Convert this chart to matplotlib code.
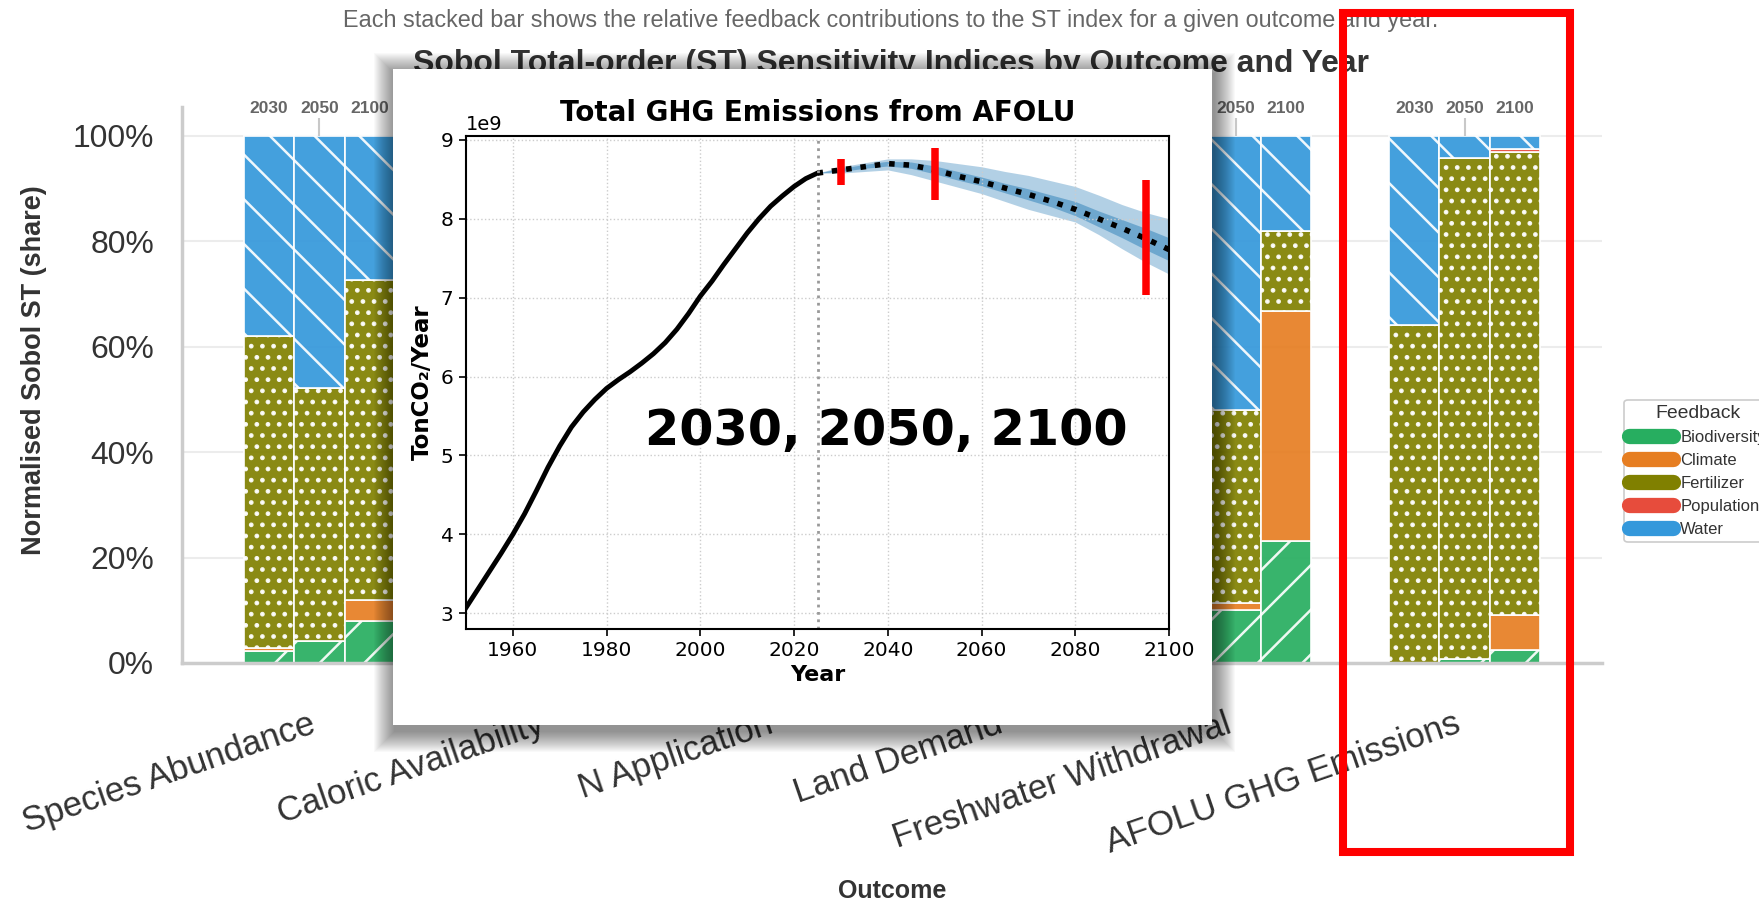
import matplotlib
matplotlib.use('Agg')
import matplotlib.pyplot as plt
import numpy as np
from matplotlib.patches import Rectangle
from matplotlib.lines import Line2D
from matplotlib.ticker import PercentFormatter

W, H = 1759, 903   # output size in pixels
DPI = 134          # hatch spacing follows the dpi, so render at a higher one
P = 100 / DPI      # sizes below are written as "points at 100 dpi"

plt.rcParams['font.family'] = ['Liberation Sans', 'DejaVu Sans']
plt.rcParams['hatch.linewidth'] = 1.8 * P

# ---- Sobol ST shares, one row per outcome, columns = 2030 / 2050 / 2100 ----
outcomes = ['Species Abundance', 'Caloric Availability', 'N Application',
            'Land Demand', 'Freshwater Withdrawal', 'AFOLU GHG Emissions']
years = ['2030', '2050', '2100']
feedbacks = ['Biodiversity', 'Climate', 'Fertilizer', 'Population', 'Water']

biodiversity = [[0.022, 0.041, 0.080], [0.05, 0.06, 0.10], [0.01, 0.02, 0.03],
                [0.15, 0.18, 0.20], [0.080, 0.100, 0.232], [0.000, 0.007, 0.024]]
climate = [[0.006, 0.000, 0.040], [0.02, 0.05, 0.20], [0.00, 0.01, 0.05],
           [0.02, 0.05, 0.25], [0.010, 0.013, 0.436], [0.000, 0.000, 0.068]]
fertilizer = [[0.592, 0.480, 0.606], [0.55, 0.50, 0.40], [0.90, 0.88, 0.80],
              [0.45, 0.40, 0.30], [0.400, 0.368, 0.151], [0.642, 0.951, 0.877]]
population = [[0.000, 0.000, 0.000], [0.00, 0.00, 0.00], [0.00, 0.00, 0.00],
              [0.01, 0.01, 0.02], [0.000, 0.000, 0.000], [0.000, 0.000, 0.006]]
water = [[0.380, 0.479, 0.274], [0.38, 0.39, 0.30], [0.09, 0.09, 0.12],
         [0.37, 0.36, 0.23], [0.510, 0.519, 0.181], [0.358, 0.042, 0.025]]

colors = {'Biodiversity': '#27ae60', 'Climate': '#e67e22', 'Fertilizer': '#808000',
          'Population': '#e74c3c', 'Water': '#3498db'}
hatches = {'Biodiversity': '/', 'Climate': '', 'Fertilizer': '..',
           'Population': '', 'Water': '\\'}

# ---- AFOLU GHG emissions (TonCO2/Year) ----
hist_years = [1950, 1952.5, 1955, 1957.5, 1960, 1962.5, 1965, 1967.5, 1970, 1972.5,
              1975, 1977.5, 1980, 1982.5, 1985, 1987.5, 1990, 1992.5, 1995, 1997.5,
              2000, 2002.5, 2005, 2007.5, 2010, 2012.5, 2015, 2017.5, 2020, 2022.5, 2025]
hist_emis = [3.07e9, 3.30e9, 3.53e9, 3.76e9, 4.00e9, 4.26e9, 4.55e9, 4.85e9, 5.12e9, 5.36e9,
             5.55e9, 5.71e9, 5.85e9, 5.96e9, 6.06e9, 6.17e9, 6.29e9, 6.43e9, 6.60e9, 6.80e9,
             7.02e9, 7.21e9, 7.42e9, 7.62e9, 7.82e9, 8.00e9, 8.16e9, 8.29e9, 8.41e9, 8.51e9,
             8.58e9]
proj_years = [2025, 2030, 2035, 2040, 2045, 2050, 2055, 2060, 2065, 2070,
              2075, 2080, 2085, 2090, 2095, 2100]
proj_median = [8.58e9, 8.62e9, 8.66e9, 8.70e9, 8.68e9, 8.62e9, 8.54e9, 8.47e9,
               8.39e9, 8.31e9, 8.22e9, 8.12e9, 8.00e9, 7.88e9, 7.75e9, 7.61e9]
proj_q05 = [8.58e9, 8.58e9, 8.60e9, 8.62e9, 8.56e9, 8.48e9, 8.40e9, 8.32e9,
            8.22e9, 8.12e9, 8.04e9, 7.96e9, 7.80e9, 7.62e9, 7.45e9, 7.30e9]
proj_q95 = [8.58e9, 8.66e9, 8.71e9, 8.76e9, 8.76e9, 8.74e9, 8.70e9, 8.66e9,
            8.60e9, 8.55e9, 8.48e9, 8.41e9, 8.30e9, 8.18e9, 8.08e9, 8.00e9]
proj_q25 = [8.58e9, 8.60e9, 8.64e9, 8.67e9, 8.64e9, 8.57e9, 8.49e9, 8.42e9,
            8.33e9, 8.24e9, 8.15e9, 8.04e9, 7.90e9, 7.76e9, 7.61e9, 7.47e9]
proj_q75 = [8.58e9, 8.64e9, 8.69e9, 8.73e9, 8.72e9, 8.67e9, 8.60e9, 8.53e9,
            8.45e9, 8.38e9, 8.30e9, 8.22e9, 8.10e9, 7.99e9, 7.88e9, 7.76e9]
mark_years = [2030, 2050, 2095]
mark_lo = [8.43e9, 8.24e9, 7.03e9]
mark_hi = [8.76e9, 8.90e9, 8.49e9]


def px_rect(x0, top, x1, bottom, **kw):
    # rectangle given in output pixels (origin top-left)
    return Rectangle((x0 / W, 1 - bottom / H), (x1 - x0) / W, (bottom - top) / H,
                     transform=fig.transFigure, **kw)


fig = plt.figure(figsize=(W / DPI, H / DPI), dpi=DPI)
fig.patch.set_facecolor('white')

# ================= background: stacked bars =================
ax = fig.add_axes([182 / W, 1 - 663 / H, (1602 - 182) / W, (663 - 107) / H])
ax.set_zorder(0)
x = np.arange(len(outcomes))
bar_w = 0.22
shares = [biodiversity, climate, fertilizer, population, water]
for j, yr in enumerate(years):
    xpos = x + (j - 1) * bar_w
    bottom = np.zeros(len(outcomes))
    for name, vals in zip(feedbacks, shares):
        v = np.array([row[j] for row in vals])
        ax.bar(xpos, v, bar_w, bottom=bottom, color=colors[name], alpha=0.92,
               hatch=hatches[name], edgecolor='white', linewidth=1.3 * P)
        bottom += v
    for xp in xpos:
        ax.text(xp, 1.052, yr, ha='center', va='center', fontsize=12.5 * P,
                fontweight='bold', color='#666666')
ax.vlines(x, 1.0, 1.035, color='#c8c8c8', lw=1.5 * P)

ax.set_xlim(-0.6, 5.6)
ax.set_ylim(0, 1.055)
ax.set_yticks(np.arange(0, 1.01, 0.2))
ax.yaxis.set_major_formatter(PercentFormatter(1.0, decimals=0))
ax.set_xticks(x)
ax.set_xticklabels(outcomes, rotation=19, ha='right')
ax.tick_params(axis='x', length=0, pad=32 * P, labelsize=25 * P, labelcolor='#333333')
ax.tick_params(axis='y', length=0, pad=20 * P, labelsize=23 * P, labelcolor='#333333')
ax.yaxis.grid(True, color='#ececec', lw=1.5 * P)
ax.set_axisbelow(True)
for s in ['top', 'right']:
    ax.spines[s].set_visible(False)
for s in ['left', 'bottom']:
    ax.spines[s].set_color('#cccccc')
    ax.spines[s].set_linewidth(2.5 * P)

ax.set_ylabel('Normalised Sobol ST (share)', fontsize=19.5 * P, fontweight='bold', color='#333333')
ax.yaxis.set_label_coords(-0.095, 0.527)
ax.set_xlabel('Outcome', fontsize=18 * P, fontweight='bold', color='#333333')
ax.xaxis.set_label_coords(0.5, -0.388)

handles = [Line2D([0], [0], color=colors[f], lw=11 * P, solid_capstyle='round') for f in feedbacks]
leg = ax.legend(handles, feedbacks, title='Feedback', loc='center left',
                bbox_to_anchor=(1616 / W, 1 - 471 / H), bbox_transform=fig.transFigure,
                fontsize=12 * P, title_fontsize=14 * P, edgecolor='#cccccc', framealpha=1,
                handlelength=2.6, labelspacing=0.48, borderpad=0.3, handletextpad=0.45)
leg.get_frame().set_linewidth(1.2 * P)
for t in leg.get_texts():
    t.set_color('#333333')
leg.get_title().set_color('#333333')

fig.text(891 / W, 1 - 20 / H,
         'Each stacked bar shows the relative feedback contributions to the ST index '
         'for a given outcome and year.',
         ha='center', va='center', fontsize=16.8 * P, color='#666666', zorder=0.5)
fig.text(891 / W, 1 - 64 / H,
         'Sobol Total-order (ST) Sensitivity Indices by Outcome and Year',
         ha='center', va='center', fontsize=23 * P, fontweight='bold', color='#333333', zorder=0.5)

# ================= pasted inset with drop shadow =================
for k in range(1, 22):
    fig.patches.append(px_rect(393 - k + 2, 69 - k + 5, 1212 + k + 2, 725 + k + 6,
                               facecolor='black', alpha=0.025, lw=0, zorder=1))
fig.patches.append(px_rect(393, 69, 1212, 725, facecolor='white', lw=0, zorder=2))

ax_in = fig.add_axes([466 / W, 1 - 629 / H, (1169 - 466) / W, (629 - 136) / H])
ax_in.set_zorder(3)
ax_in.fill_between(proj_years, proj_q05, proj_q95, color='#2c7fb8', alpha=0.36, lw=0)
ax_in.fill_between(proj_years, proj_q25, proj_q75, color='#2c7fb8', alpha=0.5, lw=0)
ax_in.plot(hist_years, hist_emis, color='black', lw=3.5 * P)
ax_in.plot(proj_years, proj_median, color='black', lw=4.0 * P, ls=(0, (1, 1.6)))
ax_in.axvline(2025, color='#999999', ls=':', lw=2.0 * P)
ax_in.vlines(mark_years, mark_lo, mark_hi, colors='red', lw=5.4 * P, zorder=5)

ax_in.set_xlim(1950, 2100)
ax_in.set_ylim(2.8e9, 9.05e9)
ax_in.set_xticks(range(1960, 2101, 20))
ax_in.set_yticks(np.arange(3e9, 9.01e9, 1e9))
ax_in.grid(True, ls=':', color='#cccccc', lw=1.0 * P)
ax_in.tick_params(labelsize=14.5 * P, labelfontfamily='DejaVu Sans', length=5 * P,
                  width=1.2 * P, pad=4 * P)
ax_in.yaxis.get_offset_text().set_fontsize(14 * P)
ax_in.yaxis.get_offset_text().set_fontfamily('DejaVu Sans')
for s in ax_in.spines.values():
    s.set_linewidth(1.5 * P)
ax_in.set_title('Total GHG Emissions from AFOLU', fontsize=20 * P, fontweight='bold',
                fontfamily='DejaVu Sans', pad=11 * P)
ax_in.set_xlabel('Year', fontsize=16 * P, fontweight='bold', fontfamily='DejaVu Sans',
                 labelpad=3 * P)
ax_in.set_ylabel('TonCO\u2082/Year', fontsize=16.5 * P, fontweight='bold',
                 fontfamily='DejaVu Sans', labelpad=5 * P)

fig.text(886 / W, 1 - 431 / H, '2030, 2050, 2100', ha='center', va='center',
         fontsize=35.5 * P, fontweight='bold', fontfamily='DejaVu Sans', zorder=6)

# red highlight frame around the AFOLU group
fig.patches.append(px_rect(1343, 13, 1570, 852, fill=False, edgecolor='red',
                           lw=5.8 * P, zorder=10))

fig.savefig('out.png', dpi=DPI)
